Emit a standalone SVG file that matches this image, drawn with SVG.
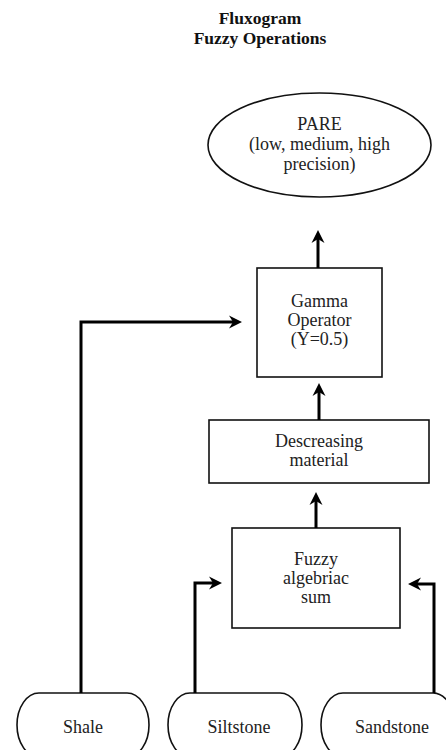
<svg xmlns="http://www.w3.org/2000/svg" width="446" height="750" viewBox="0 0 446 750">
<style>
.t{font-family:"Liberation Serif","Times New Roman",serif;font-size:18px;fill:#222;text-anchor:middle}
.title{font-family:"Liberation Serif","Times New Roman",serif;font-size:17.5px;font-weight:bold;fill:#111;text-anchor:middle}
.n{fill:#fff;stroke:#111;stroke-width:1.6}
.c{fill:none;stroke:#000;stroke-width:3;marker-end:url(#ah)}
</style>
<defs>
<marker id="ah" markerUnits="userSpaceOnUse" markerWidth="16" markerHeight="16" refX="8" refY="6.5" orient="auto" overflow="visible">
<path d="M0,0 L13,6.5 L0,13 L4,6.5 z" fill="#000"/>
</marker>
</defs>
<rect width="446" height="750" fill="#fff"/>
<g id="title">
<text class="title" x="260" y="24">Fluxogram</text>
<text class="title" x="260" y="44">Fuzzy Operations</text>
</g>
<g id="pare">
<ellipse class="n" cx="319.5" cy="145" rx="111.5" ry="52"/>
<text class="t" x="319.5" y="130">PARE</text>
<text class="t" x="319.5" y="150">(low, medium, high</text>
<text class="t" x="319.5" y="170">precision)</text>
</g>
<g id="gamma">
<rect class="n" x="257" y="268" width="125" height="109"/>
<text class="t" x="319.5" y="307">Gamma</text>
<text class="t" x="319.5" y="326">Operator</text>
<text class="t" x="319.5" y="345">(Y=0.5)</text>
</g>
<g id="descreasing">
<rect class="n" x="209" y="420" width="220" height="63"/>
<text class="t" x="319" y="447">Descreasing</text>
<text class="t" x="319" y="466">material</text>
</g>
<g id="fuzzy">
<rect class="n" x="232" y="528" width="168" height="100"/>
<text class="t" x="316" y="565">Fuzzy</text>
<text class="t" x="316" y="584">algebriac</text>
<text class="t" x="316" y="603">sum</text>
</g>
<g id="shale">
<rect class="n" x="17" y="693" width="132" height="64" rx="22" ry="32"/>
<text class="t" x="83" y="733">Shale</text>
</g>
<g id="siltstone">
<rect class="n" x="168" y="693" width="134" height="64" rx="22" ry="32"/>
<text class="t" x="239" y="733">Siltstone</text>
</g>
<g id="sandstone">
<rect class="n" x="321" y="693" width="134" height="64" rx="22" ry="32"/>
<text class="t" x="392" y="733">Sandstone</text>
</g>
<g id="connectors">
<path class="c" d="M318,268 V235"/>
<path class="c" d="M319,420 V388"/>
<path class="c" d="M316,528 V497"/>
<path class="c" d="M81,693 V322 H237"/>
<path class="c" d="M195,693 V583 H217"/>
<path class="c" d="M434,693 V584 H413"/>
</g>
</svg>
